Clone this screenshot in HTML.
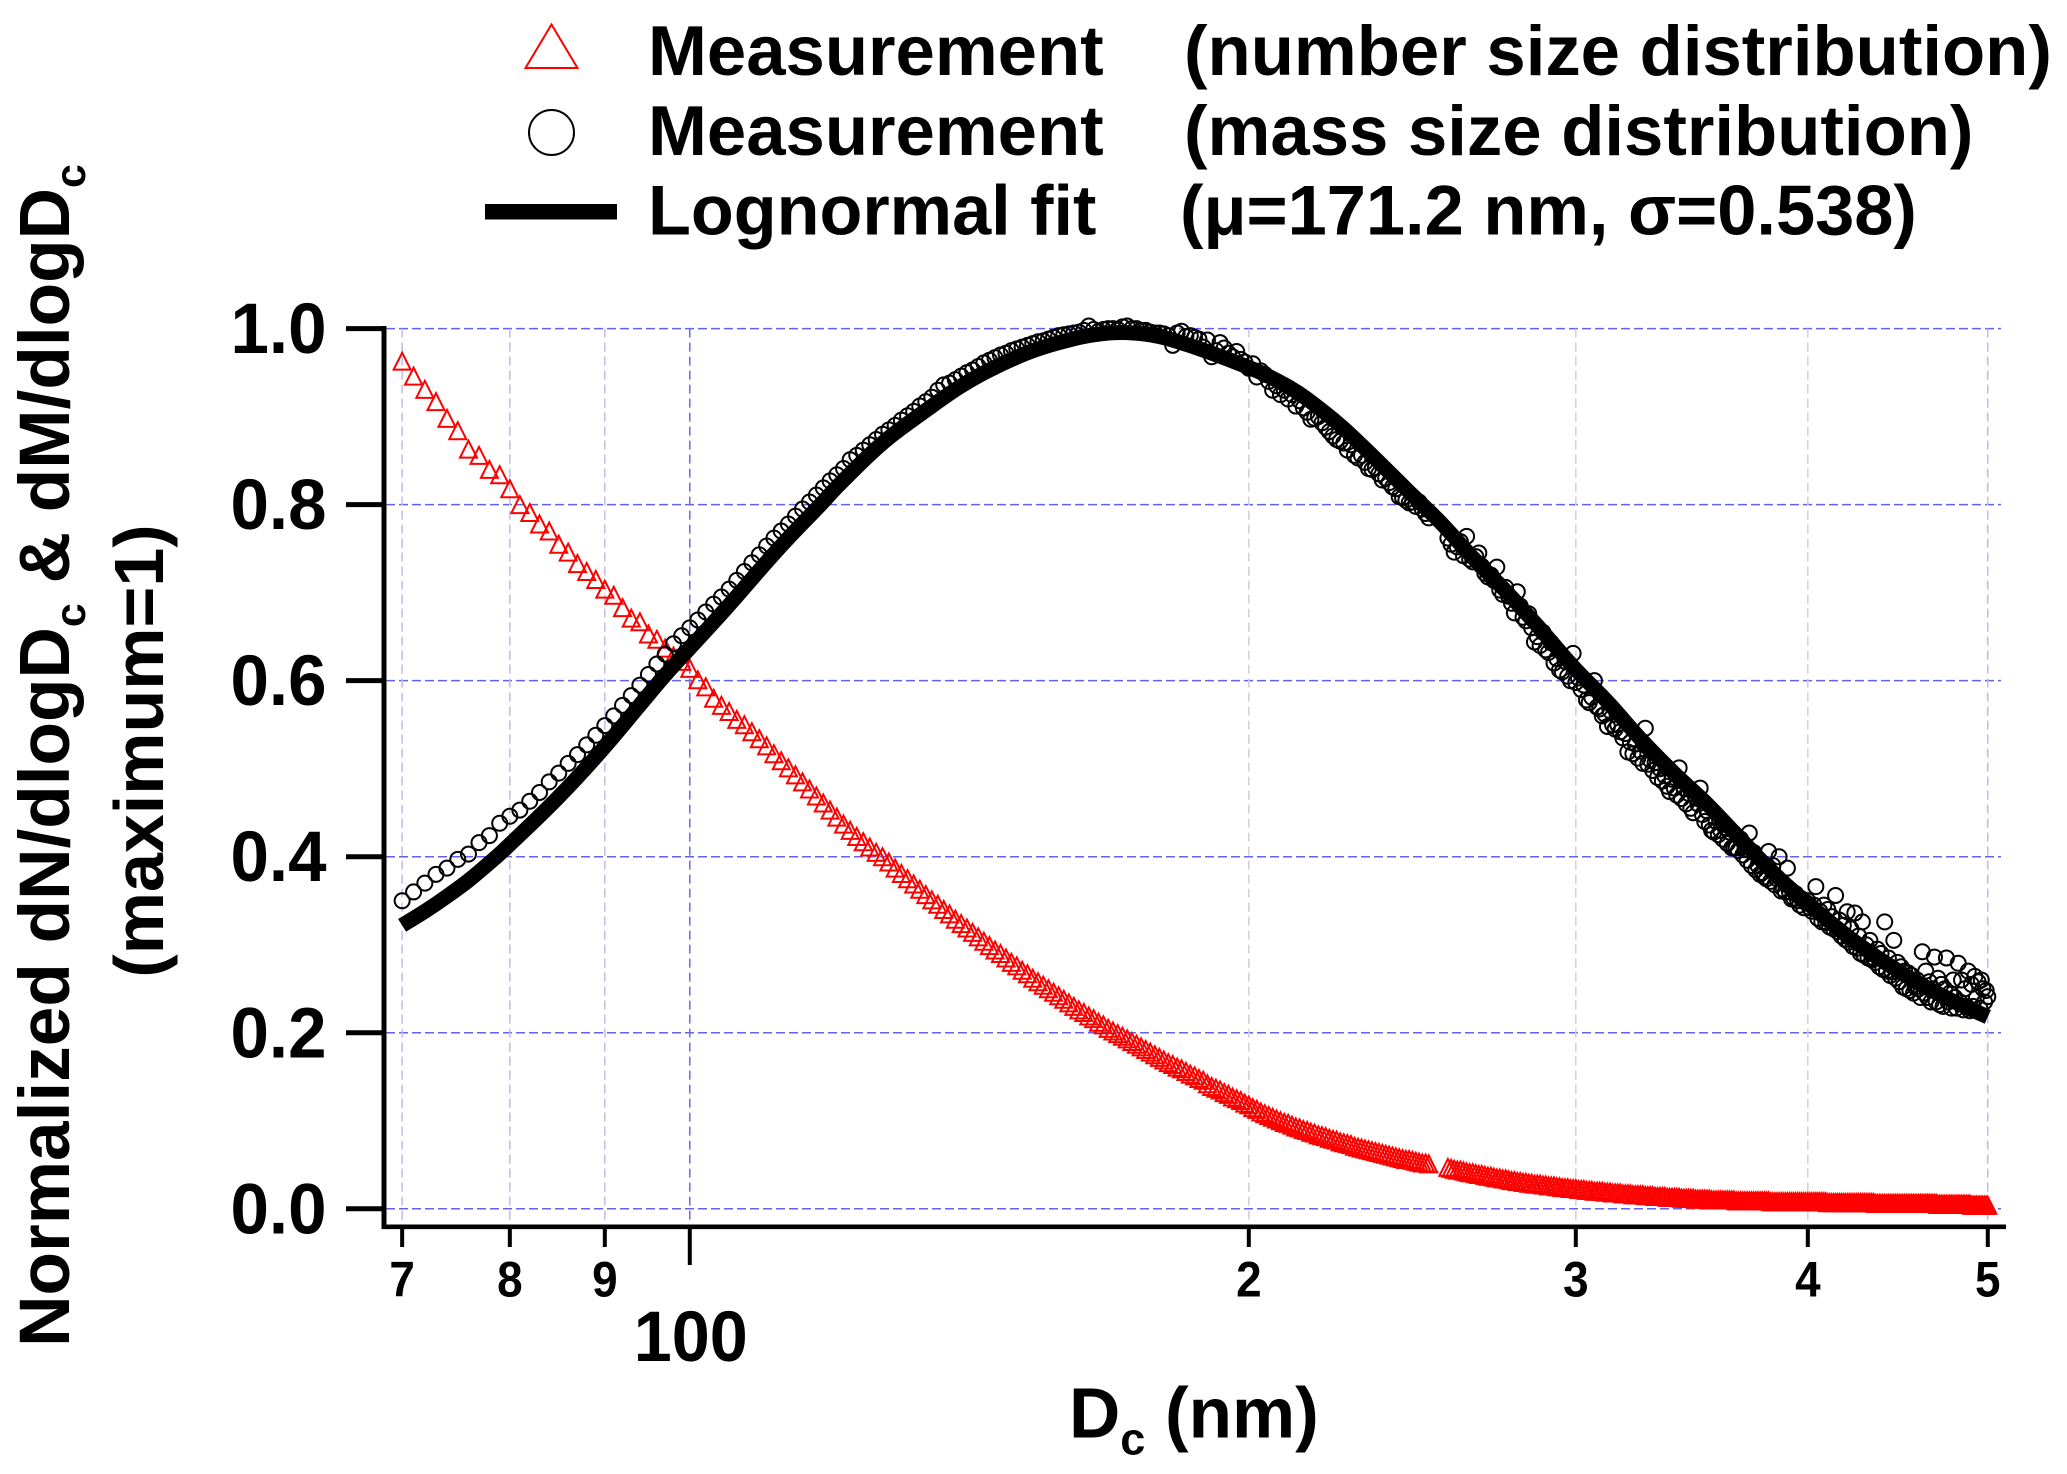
<!DOCTYPE html>
<html lang="en">
<head>
<meta charset="utf-8">
<title>Normalized size distributions</title>
<style>
html,body{margin:0;padding:0;background:#fff;}
svg{display:block;}
text{font-family:"Liberation Sans",Arial,sans-serif;font-weight:bold;fill:#000;}
</style>
</head>
<body>
<svg id="chart" xmlns="http://www.w3.org/2000/svg" width="2067" height="1474" viewBox="0 0 2067 1474">
  <rect x="0" y="0" width="2067" height="1474" fill="#fff"/>
  <g id="grid"></g>
  <g id="series-n"></g>
  <g id="series-m"></g>
  <g id="series-fit"></g>
  <g id="axes"></g>

  <g>
    <polygon points="551.5,24.5 525.5,68 577.5,68" fill="none" stroke="#f00" stroke-width="2"/>
    <text x="648" y="75" font-size="70.7">Measurement</text>
    <text x="1184" y="75" font-size="70.7">(number size distribution)</text>
    <circle cx="551.5" cy="132.5" r="22.5" fill="none" stroke="#000" stroke-width="2"/>
    <text x="648" y="155" font-size="70.7">Measurement</text>
    <text x="1184" y="155" font-size="70.7">(mass size distribution)</text>
    <rect x="485" y="204" width="132" height="15.5" fill="#000"/>
    <text x="648" y="234.5" font-size="70.2">Lognormal fit</text>
    <text x="1180" y="234.5" font-size="70.4">(μ=171.2 nm, σ=0.538)</text>
  </g>

  <text transform="translate(69,755.5) rotate(-90)" text-anchor="middle" font-size="71.2">Normalized dN/dlogD<tspan font-size="43" dy="16">c</tspan><tspan dy="-16"> &amp; dM/dlogD</tspan><tspan font-size="43" dy="16">c</tspan></text>
  <text transform="translate(163,751) rotate(-90)" text-anchor="middle" font-size="70">(maximum=1)</text>
  <text x="1069" y="1437.5" font-size="71">D<tspan font-size="45" dy="17">c</tspan><tspan dy="-17"> (nm)</tspan></text>
</svg>

<script>
// Chart data
var diameters = [
70,71,72,73,74,75,76,77,78,79,
80,81,82,83,84,85,86,87,88,89,
90,91,92,93,94,95,96,97,98,99,
100,101,102,103,104,105,106,107,108,109,
110,111,112,113,114,115,116,117,118,119,
120,121,122,123,124,125,126,127,128,129,
130,131,132,133,134,135,136,137,138,139,
140,141,142,143,144,145,146,147,148,149,
150,151,152,153,154,155,156,157,158,159,
160,161,162,163,164,165,166,167,168,169,
170,171,172,173,174,175,176,177,178,179,
180,181,182,183,184,185,186,187,188,189,
190,191,192,193,194,195,196,197,198,199,
200,201,202,203,204,205,206,207,208,209,
210,211,212,213,214,215,216,217,218,219,
220,221,222,223,224,225,226,227,228,229,
230,231,232,233,234,235,236,237,238,239,
240,241,242,243,244,245,246,247,248,249,
250,
256,257,258,259,
260,261,262,263,264,265,266,267,268,269,
270,271,272,273,274,275,276,277,278,279,
280,281,282,283,284,285,286,287,288,289,
290,291,292,293,294,295,296,297,298,299,
300,301,302,303,304,305,306,307,308,309,
310,311,312,313,314,315,316,317,318,319,
320,321,322,323,324,325,326,327,328,329,
330,331,332,333,334,335,336,337,338,339,
340,341,342,343,344,345,346,347,348,349,
350,351,352,353,354,355,356,357,358,359,
360,361,362,363,364,365,366,367,368,369,
370,371,372,373,374,375,376,377,378,379,
380,381,382,383,384,385,386,387,388,389,
390,391,392,393,394,395,396,397,398,399,
400,401,402,403,404,405,406,407,408,409,
410,411,412,413,414,415,416,417,418,419,
420,421,422,423,424,425,426,427,428,429,
430,431,432,433,434,435,436,437,438,439,
440,441,442,443,444,445,446,447,448,449,
450,451,452,453,454,455,456,457,458,459,
460,461,462,463,464,465,466,467,468,469,
470,471,472,473,474,475,476,477,478,479,
480,481,482,483,484,485,486,487,488,489,
490,491,492,493,494,495,496,497,498,499,
500];

var numberValues = [
.963,.946,.931,.917,.898,.884,.863,.856,.84,.834,
.818,.80,.791,.778,.77,.755,.746,.733,.724,.715,
.704,.697,.683,.671,.667,.653,.647,.637,.628,.622,
.614,.601,.593,.58,.572,.565,.556,.55,.542,.534,
.526,.517,.509,.501,.493,.485,.477,.469,.461,.453,
.445,.437,.43,.423,.417,.411,.405,.40,.394,.387,
.381,.375,.369,.363,.357,.351,.346,.34,.335,.329,
.324,.319,.314,.309,.304,.299,.294,.29,.285,.28,
.276,.271,.267,.262,.258,.254,.25,.246,.242,.238,
.234,.23,.226,.223,.219,.216,.212,.209,.205,.202,
.199,.196,.193,.19,.187,.184,.181,.178,.175,.172,
.169,.166,.164,.161,.159,.156,.153,.151,.148,.146,
.142,.139,.137,.135,.132,.13,.127,.125,.123,.12,
.118,.115,.113,.11,.108,.106,.104,.102,.1,.098,
.097,.095,.093,.092,.09,.089,.087,.086,.084,.083,
.082,.08,.079,.078,.076,.075,.074,.073,.071,.07,
.069,.068,.067,.066,.065,.064,.063,.062,.061,.06,
.059,.058,.057,.056,.056,.055,.054,.053,.052,.052,
.051,
.047,.046,.045,.044,
.044,.043,.042,.041,.041,.04,.039,.039,.038,.037,
.037,.036,.035,.035,.034,.034,.033,.032,.032,.031,
.031,.03,.03,.029,.029,.028,.028,.028,.027,.027,
.026,.026,.026,.025,.025,.024,.024,.024,.023,.023,
.023,.022,.022,.022,.021,.021,.021,.02,.02,.02,
.02,.019,.019,.019,.018,.018,.018,.018,.017,.017,
.017,.017,.016,.016,.016,.016,.016,.015,.015,.015,
.015,.014,.014,.014,.014,.014,.013,.013,.013,.013,
.013,.013,.012,.012,.012,.012,.012,.012,.011,.011,
.011,.011,.011,.011,.011,.01,.01,.01,.01,.01,
.01,.01,.01,.01,.01,.01,.009,.009,.009,.009,
.009,.009,.009,.009,.009,.009,.009,.009,.009,.009,
.009,.009,.008,.008,.008,.008,.008,.008,.008,.008,
.008,.008,.008,.008,.008,.008,.008,.008,.008,.008,
.008,.008,.008,.008,.008,.008,.008,.008,.008,.008,
.007,.007,.007,.007,.007,.007,.007,.007,.007,.007,
.007,.007,.007,.007,.007,.007,.007,.007,.007,.007,
.007,.007,.007,.007,.007,.006,.006,.006,.006,.006,
.006,.006,.006,.006,.006,.006,.006,.006,.006,.006,
.006,.006,.006,.006,.006,.006,.006,.006,.006,.006,
.006,.006,.006,.006,.006,.006,.006,.006,.006,.006,
.005,.005,.005,.005,.005,.005,.005,.005,.005,.005,
.005,.005,.005,.005,.005,.005,.005,.005,.005,.005,
.004,.004,.004,.004,.004,.004,.004,.004,.004,.004,
.004];

var massValues = [
.35,.36,.37,.38,.387,.397,.403,.416,.424,.438,
.446,.453,.463,.473,.485,.495,.506,.516,.527,.538,
.549,.56,.572,.583,.595,.607,.619,.63,.642,.651,
.66,.669,.678,.687,.695,.704,.714,.724,.734,.743,
.753,.762,.77,.778,.787,.795,.803,.811,.819,.827,
.834,.841,.851,.856,.862,.868,.874,.88,.885,.89,
.896,.901,.906,.912,.917,.922,.93,.936,.938,.942,
.946,.95,.953,.957,.961,.964,.967,.97,.972,.975,
.977,.979,.981,.983,.985,.986,.988,.99,.992,.993,
.994,.995,.996,.998,1.003,.999,.997,.999,1.0,1.0,
.999,1.002,1.003,1.0,1.0,.998,.998,.996,.995,.995,
.994,.992,.981,.995,.997,.991,.992,.99,.988,.979,
.987,.968,.975,.984,.978,.972,.968,.974,.965,.962,
.955,.96,.945,.952,.948,.94,.93,.935,.925,.93,
.92,.925,.912,.918,.91,.905,.897,.898,.9,.893,
.888,.883,.878,.874,.872,.87,.862,.868,.856,.853,
.856,.848,.841,.84,.842,.835,.828,.83,.825,.82,
.818,.809,.808,.805,.802,.803,.798,.803,.795,.79,
.785,
.762,.755,.746,.752,
.758,.742,.764,.738,.735,.741,.745,.73,.722,.718,
.72,.714,.729,.703,.698,.706,.696,.688,.677,.701,
.685,.672,.668,.676,.66,.644,.65,.64,.655,.635,
.632,.643,.62,.625,.612,.61,.622,.605,.6,.631,
.598,.603,.59,.595,.578,.575,.581,.6,.57,.568,
.56,.562,.548,.566,.55,.545,.55,.542,.535,.54,
.519,.53,.517,.528,.512,.52,.506,.546,.505,.51,
.498,.507,.49,.5,.486,.492,.48,.474,.488,.478,
.47,.501,.466,.478,.46,.472,.455,.45,.468,.46,
.478,.448,.44,.452,.436,.43,.428,.44,.425,.43,
.42,.433,.415,.428,.41,.41,.41,.407,.42,.402,
.408,.396,.427,.39,.405,.385,.39,.38,.382,.377,
.375,.406,.372,.39,.368,.375,.4,.361,.363,.36,
.387,.36,.352,.353,.358,.35,.345,.352,.342,.348,
.35,.342,.338,.345,.366,.33,.338,.326,.345,.325,
.34,.32,.332,.318,.356,.315,.328,.31,.322,.306,
.3375,.303,.318,.298,.336,.296,.31,.29,.326,.288,
.3,.285,.305,.283,.285,.28,.295,.275,.29,.272,
.326,.27,.285,.265,.269,.305,.262,.28,.258,.275,
.252,.27,.25,.268,.248,.265,.245,.252,.26,.25,
.24,.292,.245,.27,.24,.258,.235,.25,.286,.235,
.262,.232,.255,.23,.25,.285,.235,.245,.228,.26,
.24,.228,.279,.235,.26,.226,.25,.23,.27,.225,
.255,.23,.264,.24,.258,.228,.26,.25,.235,.248,
.241];

var fitDiameters = [70,72,74,76,78,80,85,90,96.4,100,105,110,113.7,117.6,120,125,128.7,135,139.8,145,151.8,158,165,172,179,187,195,203,210,215,224,233,243,253.6,264,275,287,299,312,325,338.5,353,365,377,388,400,420,440,460,480,500];
var fitValues = [.322,.338,.355,.373,.393,.414,.468,.525,.6,.637,.686,.735,.768,.8,.82,.857,.88,.912,.934,.953,.972,.984,.993,.9955,.991,.979,.965,.95,.934,.92,.89,.856,.818,.78,.74,.702,.659,.616,.576,.534,.496,.46,.428,.397,.371,.347,.31,.28,.255,.235,.218];

var yTicks = [0,0.2,0.4,0.6,0.8,1.0];
var yTickLabels = ["0.0","0.2","0.4","0.6","0.8","1.0"];
var xTicks = [70,80,90,100,200,300,400,500];
var xTickLabels = ["7","8","9","100","2","3","4","5"];

var SVGNS = "http://www.w3.org/2000/svg";
function xScale(d){ return 689.8 + 1857 * (Math.log(d / 100) / Math.LN10); }
function yScale(v){ return 1208.8 - 880.2 * v; }
function make(tag, attrs, parent){
  var el = document.createElementNS(SVGNS, tag);
  for (var k in attrs) el.setAttribute(k, attrs[k]);
  parent.appendChild(el);
  return el;
}
// Smooth path through scaled points (Catmull-Rom)
function smoothPath(xs, ys){
  var p = xs.map(function(d, i){ return [xScale(d), yScale(ys[i])]; });
  var out = "M" + p[0][0].toFixed(1) + "," + p[0][1].toFixed(1);
  for (var i = 0; i < p.length - 1; i++){
    var a = p[Math.max(i - 1, 0)], b = p[i], c = p[i + 1], e = p[Math.min(i + 2, p.length - 1)];
    out += "C" + (b[0] + (c[0] - a[0]) / 6).toFixed(1) + "," + (b[1] + (c[1] - a[1]) / 6).toFixed(1) + " " +
           (c[0] - (e[0] - b[0]) / 6).toFixed(1) + "," + (c[1] - (e[1] - b[1]) / 6).toFixed(1) + " " +
           c[0].toFixed(1) + "," + c[1].toFixed(1);
  }
  return out;
}

var grid = document.getElementById("grid");
var axes = document.getElementById("axes");

// Grid lines
yTicks.forEach(function(t){
  var line = make("line", {x1:386, x2:2001, y1:yScale(t), y2:yScale(t), stroke:"#6262ea", "stroke-width":1.5, "stroke-dasharray":"9 4"}, grid);
  
  
});
xTicks.forEach(function(t){
  var colour = t === 100 ? "#6a6ae6" : (t >= 200 && t <= 400 ? "#cfcfd6" : "#bdbdec");
  var line = make("line", {x1:xScale(t), x2:xScale(t), y1:328.6, y2:1225, stroke:colour, "stroke-width":1.5, "stroke-dasharray":"9 5"}, grid);
  
  
});

// Number size distribution markers
var groupN = document.getElementById("series-n");
diameters.forEach(function(d, i){
  var x = xScale(d), y = yScale(numberValues[i]);
  var tri = make("polygon", {points:(x)+","+(y-8.5)+" "+(x-8.5)+","+(y+8.5)+" "+(x+8.5)+","+(y+8.5), fill:"none", stroke:"#f00", "stroke-width":2}, groupN);
  
  
});

// Mass size distribution markers
var groupM = document.getElementById("series-m");
diameters.forEach(function(d, i){
  var dot = make("circle", {cx:xScale(d), cy:yScale(massValues[i]), r:7.5, fill:"none", stroke:"#000", "stroke-width":2}, groupM);
  
  
});

// Lognormal fit line
var fitLine = make("path", {d:smoothPath(fitDiameters, fitValues), fill:"none", stroke:"#000", "stroke-width":15, "stroke-linejoin":"round", "stroke-linecap":"butt"}, document.getElementById("series-fit"));



// Axis lines
var yAxis = make("line", {x1:384, x2:384, y1:326, y2:1229, stroke:"#000", "stroke-width":5}, axes);


var xAxis = make("line", {x1:381.5, x2:2006, y1:1226.8, y2:1226.8, stroke:"#000", "stroke-width":4.6}, axes);



// Y ticks and labels
yTicks.forEach(function(t, i){
  var mark = make("line", {x1:346, x2:384, y1:yScale(t), y2:yScale(t), stroke:"#000", "stroke-width":5}, axes);
  
  
  var label = make("text", {x:326.5, y:yScale(t) + 24.5, "text-anchor":"end", "font-size":71, textLength:96, lengthAdjust:"spacingAndGlyphs"}, axes);
  
  
  label.textContent = yTickLabels[i];
});

// X ticks and labels
xTicks.forEach(function(t, i){
  var major = t === 100;
  var mark = make("line", {x1:xScale(t), x2:xScale(t), y1:1227, y2:major ? 1265 : 1247, stroke:"#000", "stroke-width":4}, axes);
  
  
  var label = make("text", {x:major ? xScale(t) + 1 : xScale(t), y:major ? 1361 : 1296.5, "text-anchor":"middle", "font-size":major ? 71 : 50, textLength:major ? 114 : 25.5, lengthAdjust:"spacingAndGlyphs"}, axes);
  
  
  label.textContent = xTickLabels[i];
});
</script>
</body>
</html>
